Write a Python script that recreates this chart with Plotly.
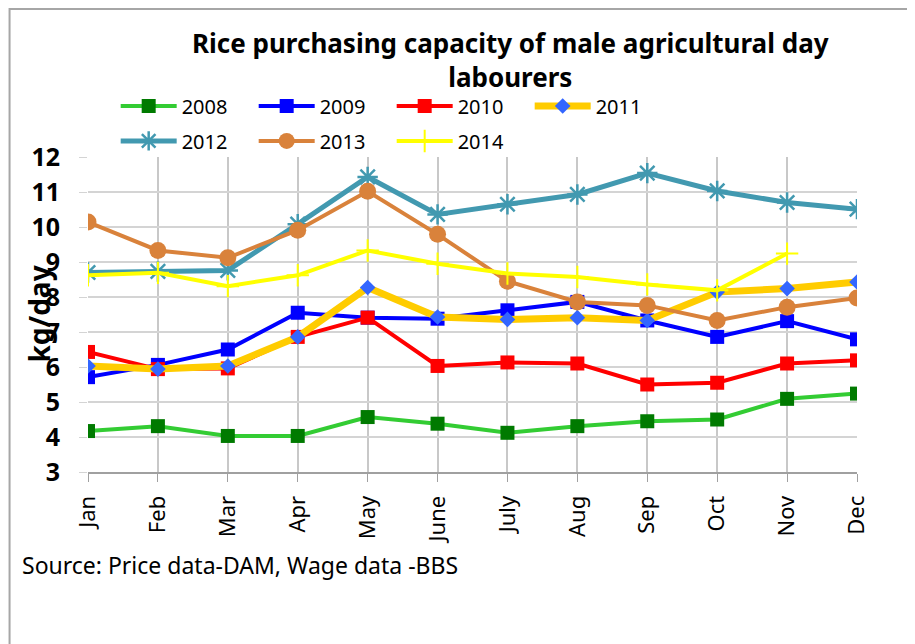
import plotly.graph_objects as go

months = ["Jan", "Feb", "Mar", "Apr", "May", "June", "July", "Aug", "Sep", "Oct", "Nov", "Dec"]

y2008 = [4.17, 4.31, 4.03, 4.03, 4.57, 4.38, 4.12, 4.31, 4.45, 4.50, 5.09, 5.24]
y2009 = [5.71, 6.06, 6.50, 7.55, 7.41, 7.38, 7.62, 7.86, 7.33, 6.86, 7.31, 6.79]
y2010 = [6.43, 5.94, 5.96, 6.86, 7.41, 6.03, 6.13, 6.10, 5.50, 5.55, 6.10, 6.19]
y2011 = [6.03, 5.94, 6.03, 6.86, 8.27, 7.43, 7.36, 7.41, 7.33, 8.14, 8.24, 8.43]
y2012 = [8.70, 8.73, 8.76, 10.08, 11.43, 10.36, 10.65, 10.93, 11.54, 11.03, 10.70, 10.51]
y2013 = [10.14, 9.33, 9.12, 9.91, 11.02, 9.79, 8.45, 7.86, 7.76, 7.33, 7.71, 7.97]
y2014 = [8.62, 8.69, 8.31, 8.62, 9.33, 8.95, 8.67, 8.57, 8.36, 8.19, 9.24, None]

FONT = "Noto Sans"

series = [
    ("2008", y2008, dict(color="#33cc33", width=4), dict(symbol="square", size=14, color="#007a00"), "legend"),
    ("2009", y2009, dict(color="#0000ff", width=4), dict(symbol="square", size=14, color="#0000ff"), "legend"),
    ("2010", y2010, dict(color="#ff0000", width=4), dict(symbol="square", size=14, color="#ff0000"), "legend"),
    ("2011", y2011, dict(color="#ffcc00", width=7), dict(symbol="diamond", size=12, color="#3366ff"), "legend"),
    ("2012", y2012, dict(color="#4299b0", width=5),
     dict(symbol="asterisk-open", size=17, line=dict(color="#4299b0", width=2.5)), "legend2"),
    ("2013", y2013, dict(color="#d9823b", width=4), dict(symbol="circle", size=17, color="#d9823b"), "legend2"),
    ("2014", y2014, dict(color="#ffff00", width=4),
     dict(symbol="cross-thin-open", size=16, line=dict(color="#8faadc", width=2)), "legend2"),
]

fig = go.Figure()
for name, ys, line, marker, leg in series:
    fig.add_trace(go.Scatter(
        x=months, y=ys, name=name, mode="lines+markers",
        line=line, marker=marker, legend=leg,
    ))

# outer chart border
fig.add_shape(type="rect", xref="paper", yref="paper",
              x0=-0.102, x1=1.071, y0=-0.6, y1=1.470,
              line=dict(color="#a6a6a6", width=2), layer="below")

fig.add_annotation(text="Rice purchasing capacity of male agricultural day<br>labourers",
                   xref="paper", yref="paper", x=0.549, y=1.308, xanchor="center", yanchor="middle",
                   showarrow=False,
                   font=dict(family=FONT, size=26, color="black", weight="bold"))
fig.add_annotation(text="kg/day", textangle=-90, xref="paper", yref="paper",
                   x=-0.065, y=0.5, xanchor="center", yanchor="middle", showarrow=False,
                   font=dict(family=FONT, size=28, color="black", weight="bold"))
fig.add_annotation(text="Source: Price data-DAM, Wage data -BBS", xref="paper", yref="paper",
                   x=-0.088, y=-0.295, xanchor="left", yanchor="middle", showarrow=False,
                   font=dict(family=FONT, size=23, color="black"))

leg_common = dict(orientation="h", xanchor="left", yanchor="middle", xref="paper", yref="paper",
                  font=dict(family=FONT, size=20, color="black"), itemwidth=56,
                  entrywidth=67, entrywidthmode="pixels", bgcolor="rgba(0,0,0,0)")

fig.update_layout(
    width=907, height=636,
    paper_bgcolor="white", plot_bgcolor="white",
    margin=dict(l=80, r=58, t=149, b=172),
    legend=dict(x=0.036, y=1.162, **leg_common),
    legend2=dict(x=0.036, y=1.051, **leg_common),
    xaxis=dict(
        type="category", range=[0, 11], showgrid=True, gridcolor="#c8c8c8", gridwidth=1.5,
        showline=True, linecolor="#a0a0a0", linewidth=2, ticks="outside", ticklen=8,
        tickcolor="#a0a0a0", tickangle=-90, zeroline=False, ticklabelstandoff=5,
        tickfont=dict(family=FONT, size=22, color="black"),
    ),
    yaxis=dict(
        range=[3, 12], dtick=1, showgrid=True, gridcolor="#d4d4d4", gridwidth=1.5,
        showline=False, ticks="outside", ticklen=8, tickcolor="#d4d4d4", zeroline=False,
        ticklabelstandoff=14,
        tickfont=dict(family=FONT, size=25, color="black", weight="bold"),
    ),
)

fig.write_html("out.html")
